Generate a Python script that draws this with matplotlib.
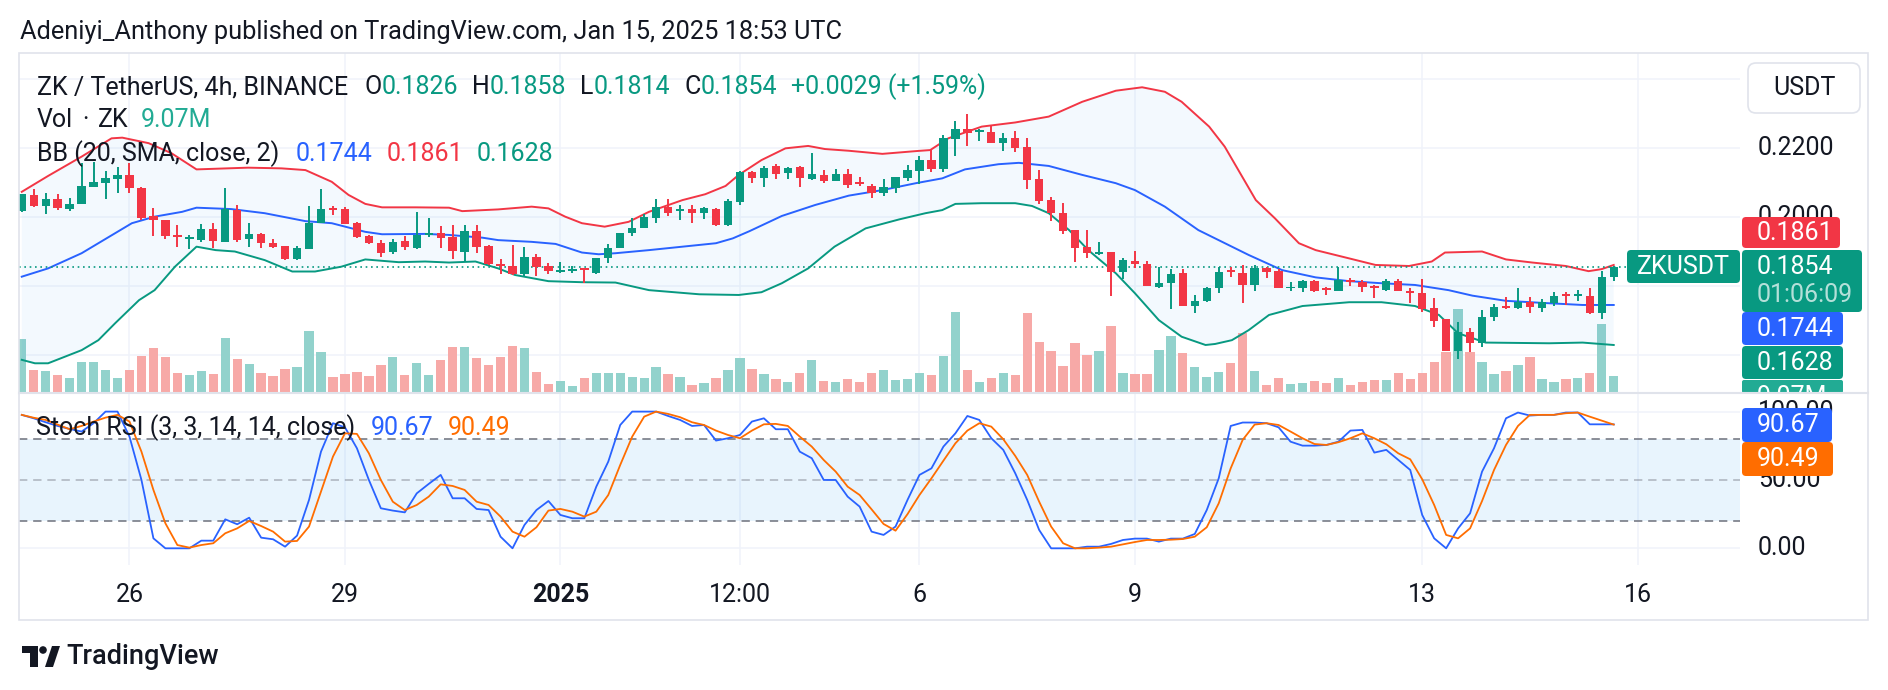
import numpy as np
import matplotlib
matplotlib.use("Agg")
import matplotlib.pyplot as plt
from matplotlib.patches import FancyBboxPatch, Rectangle, Circle, Polygon
from matplotlib.lines import Line2D
from matplotlib.transforms import IdentityTransform, Bbox, blended_transform_factory

plt.rcParams['font.family'] = ['Roboto', 'DejaVu Sans']

# ---- data (4h candles, Dec 24 12:00 -> Jan 15 16:00 UTC) ----
opens = [0.2017, 0.2064, 0.2032, 0.2052, 0.2023, 0.2037, 0.2088, 0.2100, 0.2110, 0.2122,
         0.2083, 0.2004, 0.1991, 0.1947, 0.1937, 0.1933, 0.1964, 0.1928, 0.2020, 0.1935,
         0.1951, 0.1926, 0.1916, 0.1877, 0.1908, 0.1984, 0.2027, 0.2022, 0.1982, 0.1945,
         0.1924, 0.1900, 0.1930, 0.1911, 0.1948, 0.1953, 0.1941, 0.1900, 0.1959, 0.1917,
         0.1864, 0.1858, 0.1834, 0.1885, 0.1859, 0.1842, 0.1844, 0.1850, 0.1837, 0.1880,
         0.1911, 0.1953, 0.1967, 0.1996, 0.2030, 0.2017, 0.2023, 0.2013, 0.2023, 0.1977,
         0.2044, 0.2131, 0.2112, 0.2148, 0.2127, 0.2144, 0.2109, 0.2122, 0.2105, 0.2124,
         0.2101, 0.2091, 0.2071, 0.2083, 0.2112, 0.2134, 0.2165, 0.2138, 0.2225, 0.2254,
         0.2246, 0.2246, 0.2215, 0.2228, 0.2202, 0.2110, 0.2049, 0.2011, 0.1962, 0.1912,
         0.1893, 0.1898, 0.1842, 0.1872, 0.1864, 0.1798, 0.1808, 0.1837, 0.1743, 0.1757,
         0.1793, 0.1844, 0.1839, 0.1803, 0.1851, 0.1844, 0.1793, 0.1795, 0.1814, 0.1792,
         0.1786, 0.1817, 0.1813, 0.1800, 0.1788, 0.1814, 0.1786, 0.1779, 0.1735, 0.1704,
         0.1613, 0.1666, 0.1634, 0.1709, 0.1742, 0.1735, 0.1753, 0.1735, 0.1752, 0.1777,
         0.1772, 0.1772, 0.1721, 0.1826]
highs = [0.2066, 0.2080, 0.2069, 0.2066, 0.2056, 0.2156, 0.2160, 0.2133, 0.2146, 0.2156,
         0.2086, 0.2025, 0.1991, 0.1976, 0.1948, 0.1979, 0.1984, 0.2083, 0.2034, 0.1982,
         0.1955, 0.1935, 0.1916, 0.1917, 0.2032, 0.2080, 0.2032, 0.2028, 0.1985, 0.1948,
         0.1933, 0.1935, 0.1945, 0.2014, 0.1996, 0.1974, 0.1976, 0.1976, 0.1976, 0.1919,
         0.1877, 0.1919, 0.1914, 0.1893, 0.1866, 0.1869, 0.1858, 0.1851, 0.1882, 0.1922,
         0.1953, 0.1998, 0.2008, 0.2052, 0.2052, 0.2034, 0.2034, 0.2030, 0.2025, 0.2052,
         0.2133, 0.2133, 0.2149, 0.2153, 0.2146, 0.2149, 0.2185, 0.2136, 0.2138, 0.2138,
         0.2115, 0.2095, 0.2111, 0.2115, 0.2151, 0.2177, 0.2194, 0.2238, 0.2278, 0.2299,
         0.2254, 0.2265, 0.2244, 0.2249, 0.2228, 0.2136, 0.2057, 0.2040, 0.1962, 0.1962,
         0.1927, 0.1900, 0.1882, 0.1901, 0.1872, 0.1856, 0.1848, 0.1848, 0.1774, 0.1798,
         0.1854, 0.1856, 0.1861, 0.1861, 0.1856, 0.1849, 0.1811, 0.1817, 0.1817, 0.1796,
         0.1854, 0.1822, 0.1817, 0.1803, 0.1819, 0.1819, 0.1793, 0.1819, 0.1764, 0.1704,
         0.1697, 0.1677, 0.1730, 0.1747, 0.1769, 0.1793, 0.1769, 0.1761, 0.1784, 0.1782,
         0.1788, 0.1793, 0.1843, 0.1858]
lows = [0.2015, 0.2030, 0.2008, 0.2020, 0.2018, 0.2037, 0.2088, 0.2052, 0.2071, 0.2069,
        0.1991, 0.1946, 0.1935, 0.1914, 0.1908, 0.1928, 0.1911, 0.1928, 0.1928, 0.1912,
        0.1909, 0.1909, 0.1875, 0.1875, 0.1906, 0.1982, 0.2006, 0.1980, 0.1938, 0.1922,
        0.1885, 0.1892, 0.1904, 0.1906, 0.1941, 0.1909, 0.1877, 0.1873, 0.1897, 0.1861,
        0.1835, 0.1832, 0.1825, 0.1829, 0.1835, 0.1837, 0.1837, 0.1810, 0.1834, 0.1866,
        0.1911, 0.1945, 0.1967, 0.1982, 0.2004, 0.1991, 0.1984, 0.1993, 0.1975, 0.1975,
        0.2034, 0.2100, 0.2088, 0.2110, 0.2110, 0.2088, 0.2107, 0.2098, 0.2105, 0.2085,
        0.2090, 0.2056, 0.2062, 0.2071, 0.2104, 0.2095, 0.2131, 0.2129, 0.2177, 0.2207,
        0.2221, 0.2215, 0.2192, 0.2189, 0.2081, 0.2038, 0.1988, 0.1951, 0.1871, 0.1880,
        0.1890, 0.1772, 0.1820, 0.1853, 0.1801, 0.1795, 0.1733, 0.1743, 0.1721, 0.1755,
        0.1781, 0.1827, 0.1752, 0.1786, 0.1824, 0.1795, 0.1786, 0.1784, 0.1784, 0.1774,
        0.1786, 0.1801, 0.1784, 0.1766, 0.1786, 0.1786, 0.1750, 0.1726, 0.1682, 0.1613,
        0.1587, 0.1610, 0.1624, 0.1700, 0.1732, 0.1732, 0.1723, 0.1724, 0.1742, 0.1745,
        0.1757, 0.1718, 0.1703, 0.1814]
closes = [0.2066, 0.2032, 0.2052, 0.2025, 0.2037, 0.2090, 0.2102, 0.2112, 0.2122, 0.2083,
          0.1996, 0.1991, 0.1946, 0.1941, 0.1940, 0.1964, 0.1931, 0.2022, 0.1933, 0.1951,
          0.1924, 0.1914, 0.1877, 0.1911, 0.1984, 0.2023, 0.2020, 0.1980, 0.1941, 0.1924,
          0.1897, 0.1928, 0.1914, 0.1948, 0.1955, 0.1938, 0.1902, 0.1959, 0.1914, 0.1864,
          0.1859, 0.1835, 0.1885, 0.1856, 0.1843, 0.1846, 0.1849, 0.1846, 0.1882, 0.1911,
          0.1953, 0.1969, 0.1999, 0.2028, 0.2011, 0.2023, 0.2011, 0.2026, 0.1977, 0.2047,
          0.2131, 0.2112, 0.2141, 0.2125, 0.2143, 0.2112, 0.2124, 0.2104, 0.2124, 0.2093,
          0.2097, 0.2071, 0.2086, 0.2115, 0.2136, 0.2165, 0.2138, 0.2228, 0.2254, 0.2243,
          0.2250, 0.2215, 0.2228, 0.2199, 0.2107, 0.2047, 0.2011, 0.1959, 0.1911, 0.1895,
          0.1900, 0.1842, 0.1875, 0.1863, 0.1801, 0.1810, 0.1835, 0.1743, 0.1757, 0.1793,
          0.1840, 0.1840, 0.1803, 0.1851, 0.1842, 0.1795, 0.1798, 0.1814, 0.1786, 0.1788,
          0.1817, 0.1813, 0.1796, 0.1793, 0.1814, 0.1786, 0.1781, 0.1733, 0.1700, 0.1613,
          0.1666, 0.1634, 0.1711, 0.1738, 0.1737, 0.1755, 0.1738, 0.1753, 0.1772, 0.1772,
          0.1776, 0.1721, 0.1825, 0.1854]
volume_m = [28.5, 11.9, 11.4, 9.6, 7.7, 16.1, 16.1, 11.9, 7.7, 11.9,
            19.2, 23.4, 18.7, 10.3, 9.3, 11.4, 9.8, 28.7, 17.7, 15.0,
            10.3, 8.7, 12.4, 13.5, 32.3, 21.3, 8.2, 9.8, 10.8, 8.7,
            14.5, 18.7, 9.3, 15.6, 9.3, 17.1, 24.0, 24.0, 18.2, 14.5,
            18.7, 24.5, 23.4, 10.8, 4.5, 6.1, 3.5, 7.7, 10.3, 10.3,
            10.3, 8.2, 7.7, 13.5, 9.8, 8.2, 4.0, 5.1, 7.7, 11.9,
            18.2, 12.4, 9.8, 7.2, 5.6, 10.3, 17.1, 6.5, 5.9, 7.5,
            5.9, 10.7, 12.2, 7.0, 7.5, 10.7, 9.6, 19.6, 42.6, 12.2,
            5.9, 8.0, 10.7, 9.6, 42.1, 26.9, 22.2, 14.3, 26.4, 20.1,
            22.2, 35.3, 10.7, 10.1, 10.1, 22.7, 30.1, 21.1, 13.8, 8.6,
            11.2, 15.9, 31.6, 11.7, 4.4, 8.0, 4.9, 5.4, 6.5, 5.4,
            8.0, 4.4, 5.9, 7.0, 7.0, 10.7, 7.5, 10.7, 16.4, 21.7,
            44.2, 21.7, 16.4, 10.1, 11.7, 14.8, 19.0, 7.5, 5.9, 7.5,
            8.0, 10.7, 36.3, 9.07]

# Bollinger bands (candle index, value)
bb_up_x = [0, 2.2, 5, 7.5, 8.4, 10.6, 12.5, 14.6, 18.9, 21.7, 23.7, 25.9, 27.3, 28.7, 30.1, 32.9,
           35.7, 36.8, 39.8, 42.6, 44, 45.4, 46.8, 48.7, 50.7, 52.4, 55.2, 57.1, 58.8, 59.9, 61.8,
           63.8, 65.7, 67.1, 69.1, 71.9, 74.7, 75.9, 77.4, 80.2, 83, 85.8, 88.6, 91.4, 93.6, 95.5,
           96.9, 99.2, 100.5, 103.1, 104.7, 106.7, 108.1, 110.9, 113.1, 115.9, 117.8, 118.9, 122,
           124, 126.2, 129, 130.9, 132, 133]
bb_up = [0.2073, 0.2119, 0.2175, 0.2228, 0.2230, 0.2214, 0.2185, 0.2138, 0.2143, 0.2141, 0.2136,
         0.2102, 0.2064, 0.2038, 0.2028, 0.2028, 0.2027, 0.2017, 0.2022, 0.2030, 0.2025, 0.2001,
         0.1982, 0.1972, 0.1986, 0.2015, 0.2049, 0.2066, 0.2090, 0.2122, 0.2165, 0.2199, 0.2206,
         0.2197, 0.2192, 0.2183, 0.2191, 0.2194, 0.2228, 0.2262, 0.2274, 0.2291, 0.2334, 0.2366,
         0.2376, 0.2363, 0.2334, 0.2262, 0.2204, 0.2049, 0.1996, 0.1924, 0.1904, 0.1880, 0.1861,
         0.1858, 0.1871, 0.1897, 0.1900, 0.1877, 0.1868, 0.1858, 0.1843, 0.1849, 0.1861]
bb_mid_x = [0, 2.2, 5, 7.8, 9.2, 11.1, 13.4, 14.6, 17.5, 20.3, 23.7, 25.9, 28.7, 30.1, 33.7, 35.7,
            38.5, 39.8, 42.6, 44.6, 46.8, 48.2, 49.6, 52.4, 55.2, 58, 59.4, 60.8, 63.5, 66.3, 69.1,
            71.9, 74.7, 76.9, 78.8, 81.6, 83.3, 85.8, 88.6, 91.4, 93, 95.5, 98.3, 99.7, 102.5,
            105.3, 108.1, 110.9, 113.6, 116.4, 119.2, 121.2, 124, 127.6, 130.4, 133]
bb_mid = [0.1827, 0.1851, 0.1895, 0.1953, 0.1982, 0.2001, 0.2015, 0.2027, 0.2023, 0.2011, 0.1988,
          0.1982, 0.1957, 0.1950, 0.1951, 0.1948, 0.1940, 0.1933, 0.1928, 0.1922, 0.1897, 0.1892,
          0.1895, 0.1904, 0.1914, 0.1924, 0.1938, 0.1959, 0.2003, 0.2035, 0.2062, 0.2078, 0.2098,
          0.2112, 0.2138, 0.2153, 0.2157, 0.2148, 0.2122, 0.2098, 0.2078, 0.2030, 0.1962, 0.1938,
          0.1890, 0.1846, 0.1825, 0.1814, 0.1808, 0.1803, 0.1788, 0.1772, 0.1757, 0.1750, 0.1745,
          0.1745]
bb_lo_x = [0, 1.1, 2.2, 5, 6.4, 7.8, 9.8, 11.1, 12.8, 14.6, 16.2, 17.8, 20.3, 22.6, 24.5, 26.7,
           28.7, 31.5, 33.7, 35.7, 37.9, 39.8, 41.2, 44, 46.8, 49.6, 52.4, 56.6, 59.9, 61.8, 63.5,
           65.7, 67.9, 70.5, 73.3, 75.5, 76.9, 78, 80.2, 83, 84.4, 85.8, 87.5, 89.1, 91.4, 93, 95,
           96.9, 98.9, 99.7, 101.1, 102.5, 104.2, 107, 110.9, 113.6, 116.4, 118.4, 120, 122.3,
           127.6, 130.4, 133]
bb_lo = [0.1586, 0.1576, 0.1576, 0.1614, 0.1643, 0.1692, 0.1759, 0.1788, 0.1856, 0.1914, 0.1904,
         0.1900, 0.1875, 0.1842, 0.1842, 0.1856, 0.1877, 0.1869, 0.1871, 0.1868, 0.1871, 0.1851,
         0.1832, 0.1814, 0.1811, 0.1810, 0.1788, 0.1776, 0.1774, 0.1782, 0.1808, 0.1851, 0.1914,
         0.1967, 0.1993, 0.2011, 0.2020, 0.2038, 0.2040, 0.2040, 0.2032, 0.2011, 0.1962, 0.1904,
         0.1837, 0.1779, 0.1701, 0.1653, 0.1629, 0.1632, 0.1643, 0.1672, 0.1716, 0.1742, 0.1753,
         0.1753, 0.1742, 0.1716, 0.1663, 0.1636, 0.1634, 0.1636, 0.1629]

# Stoch RSI %K and %D, one value per candle
stoch_k = [97.6, 95.1, 92.2, 89.5, 87.3, 85.4, 91.5, 100, 100, 81.7,
           50, 7.3, 0, 0, 0, 5.6, 5.6, 21.2, 17.6, 22.4,
           7.8, 6.6, 1.2, 9.3, 35.4, 70.7, 91.5, 88.5, 73.2, 50,
           29.3, 27.6, 26.3, 40.2, 47.1, 53.7, 36.6, 36.6, 28.8, 28,
           8.5, 0, 17.1, 28, 34.6, 24.4, 22, 22, 45.1, 63.4,
           90.2, 100, 100, 100, 96.8, 93.9, 89.5, 90.2, 78.8, 80.5,
           82.9, 92.7, 95.1, 87.1, 87.1, 70.7, 65.9, 50, 50, 37.8,
           30.5, 12.2, 9.8, 15.9, 35.4, 53.7, 58.5, 74.4, 84.1, 96.8,
           93.9, 80.5, 72, 54.9, 35.4, 13.4, 0, 0, 0, 1.2,
           1.2, 3.2, 6.1, 7.1, 7.1, 4.9, 7.1, 7.1, 10.5, 28,
           51.2, 89.5, 92, 92, 91.5, 88.5, 78, 75.1, 75.1, 75.6,
           78, 86.1, 86.6, 70, 72, 64.6, 57.3, 24.4, 7.3, 0,
           14.6, 25.6, 56.1, 73.2, 95.1, 99.3, 97.1, 97.6, 97.6, 99.3,
           99.3, 90.7, 90.7, 90.67]
stoch_d = [97.6, 95.5, 93.9, 90.5, 87.1, 89.5, 92.7, 95.6, 97.6, 92.7,
           70.7, 42.7, 18.3, 2.4, 0.5, 2.4, 3.7, 11, 14.6, 20,
           16.3, 12.2, 4.9, 5.4, 15.9, 41.5, 67.1, 84.1, 83.7, 69.5,
           50, 34.1, 28, 31.7, 37.8, 46.8, 45.6, 42.7, 34.1, 31.7,
           23.2, 12.2, 8.5, 15.4, 27.6, 28.8, 26.8, 23.2, 26.8, 39,
           61, 81.7, 96.3, 100, 98.3, 95.9, 92.2, 90.2, 86.1, 82.9,
           80.5, 86.1, 90.7, 91, 89.5, 81.7, 74.4, 64.6, 56.1, 45.1,
           39, 28.5, 17.8, 12.9, 25, 39, 51.2, 64.1, 76.8, 86.1,
           91.5, 89, 79.8, 67.6, 53.7, 34.1, 15.9, 3.7, 0, 0,
           0.5, 1.2, 2.9, 4.6, 6.1, 6.1, 6.3, 6.8, 8.5, 15.4,
           32.9, 58.5, 79.3, 90.5, 91.5, 90.2, 85.4, 80.5, 76.3, 75.6,
           77.6, 80.5, 84.1, 80.5, 76.1, 69.5, 65.1, 50.5, 31.7, 9.8,
           7.3, 14.6, 34.6, 57.3, 75.6, 89.5, 97.6, 97.6, 97.6, 98.8,
           99.3, 96.3, 93.4, 90.49]

tick_idx = [9, 27, 45, 60, 75, 93, 117, 135]
tick_lbl = ['26', '29', '2025', '12:00', '6', '9', '13', '16']
price_grid = [0.16, 0.18, 0.20, 0.22, 0.24]
price_ticks = [0.20, 0.22]          # the others sit under the scale labels
stoch_ticks = [0, 50, 100]

UP, DOWN = '#089981', '#F23645'
BLUE, ORANGE, DARK = '#2962FF', '#FF6D00', '#131722'
GRID, BORDER = '#F0F3FA', '#E0E3EB'
FS = 18

W, H = 1888, 690
fig = plt.figure(figsize=(W / 100, H / 100), dpi=100)
pix = IdentityTransform()


def rect(x0, y0, x1, y1):
    return [x0 / W, 1 - y1 / H, (x1 - x0) / W, (y1 - y0) / H]


o, h, l, c = map(np.array, (opens, highs, lows, closes))
x = np.arange(len(o))
up = c >= o
col = np.where(up, UP, DOWN)
vcol = np.where(up, '#92D2CC', '#F7A9A7')

xlim = (-0.23, 143.55)

ax_vol = fig.add_axes(rect(19, 53, 1740, 393))
ax = fig.add_axes(rect(19, 53, 1740, 393))
ax_st = fig.add_axes(rect(19, 393, 1740, 565))
ax_p = fig.add_axes(rect(1740, 53, 1868, 393))
ax_sp = fig.add_axes(rect(1740, 393, 1868, 565))
for a in (ax_vol, ax, ax_st, ax_p, ax_sp):
    a.set_axis_off()
ax_vol.set_zorder(1)
ax.set_zorder(2)
ax_st.set_zorder(1)

for a in (ax_vol, ax, ax_st):
    a.set_xlim(*xlim)
ax.set_ylim(0.148986, 0.247536)
ax_p.set_ylim(ax.get_ylim())
ax_vol.set_ylim(0, 178.3)
ax_st.set_ylim(-12.2, 113.6)
ax_sp.set_ylim(ax_st.get_ylim())

# grid
mix = blended_transform_factory(ax_vol.transAxes, ax.transData)
for p in price_grid:
    ax_vol.plot([0, 1], [p, p], color=GRID, lw=1.1, transform=mix, zorder=0)
for t in tick_idx:
    ax_vol.axvline(t, color=GRID, lw=1.1, zorder=0)
    ax_st.axvline(t, color=GRID, lw=1.1, zorder=0)
for v in (0, 100):
    ax_st.axhline(v, color=GRID, lw=1.1, zorder=0)

# volume
ax_vol.bar(x, volume_m, width=0.78, color=vcol, lw=0, zorder=2)

# bollinger bands
poly_x = list(bb_up_x) + list(bb_lo_x)[::-1]
poly_y = list(bb_up) + list(bb_lo)[::-1]
ax.fill(poly_x, poly_y, color='#2196F3', alpha=0.05, lw=0, zorder=1)
ax.plot(bb_up_x, bb_up, color=DOWN, lw=1.4, zorder=2)
ax.plot(bb_mid_x, bb_mid, color=BLUE, lw=1.4, zorder=2)
ax.plot(bb_lo_x, bb_lo, color=UP, lw=1.4, zorder=2)

# candles
ax.vlines(x, l, h, colors=col, lw=1.4, zorder=3)
body = np.maximum(np.abs(c - o), 0.0005)
ax.bar(x, body, bottom=np.minimum(o, c), width=0.7, color=col, lw=0, zorder=4)
ax.axhline(c[-1], color=UP, lw=1.2, ls=(0, (1, 2.2)), zorder=2.5)

# stoch rsi
ax_st.axhspan(20, 80, color='#2196F3', alpha=0.1, lw=0, zorder=0.5)
ax_st.axhline(80, color='#787B86', lw=1.2, ls=(0, (5, 3.5)), zorder=1)
ax_st.axhline(50, color='#787B86', alpha=0.5, lw=1.2, ls=(0, (5, 3.5)), zorder=1)
ax_st.axhline(20, color='#787B86', lw=1.2, ls=(0, (5, 3.5)), zorder=1)
ax_st.plot(x, stoch_k, color=BLUE, lw=1.3, zorder=3)
ax_st.plot(x, stoch_d, color=ORANGE, lw=1.3, zorder=3)

# time axis
for t, s in zip(tick_idx, tick_lbl):
    ax_st.text(t, -0.174, s, transform=ax_st.get_xaxis_transform(), ha='center', va='center',
               fontsize=FS, color=DARK, fontweight='bold' if s == '2025' else 'normal', clip_on=False)

# price scale labels
for p in price_ticks:
    ax_p.text(0.14, p, '%.4f' % p, transform=ax_p.get_yaxis_transform(), ha='left', va='center',
              fontsize=FS, color=DARK, clip_on=False)
for v in stoch_ticks:
    ax_sp.text(0.14, v, '%.2f' % v, transform=ax_sp.get_yaxis_transform(), ha='left', va='center',
               fontsize=FS, color=DARK, clip_on=False)


def box(x0, y0, x1, y1, fc, ec='none', r=4, z=6):
    fig.add_artist(FancyBboxPatch((x0, H - y1), x1 - x0, y1 - y0,
                                  boxstyle='round,pad=0,rounding_size=%g' % r,
                                  fc=fc, ec=ec, lw=1.2, transform=pix, zorder=z))


def label(xp, yp, s, color='white', ha='left', alpha=1.0, size=FS, weight='normal'):
    return fig.text(xp, H - yp, s, transform=pix, ha=ha, va='center', color=color,
                    fontsize=size, alpha=alpha, zorder=7, fontweight=weight)


box(1748, 63, 1860, 113, 'white', ec=BORDER, r=8)
label(1804, 88, 'USDT', color=DARK, ha='center')
box(1742, 217, 1840, 248, DOWN)
label(1757, 232.5, '0.1861')
box(1742, 250, 1862, 312, UP)
label(1757, 267, '%.4f' % c[-1])
label(1757, 295, '01:06:09', alpha=0.7)
box(1627, 250, 1740, 283, UP)
label(1683.5, 266.5, 'ZKUSDT', ha='center')
box(1742, 312, 1843, 345, BLUE)
label(1757, 328.5, '0.1744')
box(1742, 346, 1843, 379, UP)
label(1757, 362.5, '0.1628')
box(1742, 380, 1843, 393, '#22AB94', r=2)
tv = label(1757, 397, '9.07M')
tv.set_clip_box(Bbox.from_extents(1742, H - 393, 1843, H - 380))
box(1742, 408, 1832, 442, BLUE)
label(1757, 425, '%.2f' % stoch_k[-1])
box(1742, 442, 1833, 476, ORANGE)
label(1757, 459, '%.2f' % stoch_d[-1])

# frame
fig.add_artist(Rectangle((19, H - 620), 1849, 567, transform=pix, fill=False, ec=BORDER,
                         lw=1.2, zorder=8))
fig.add_artist(Line2D([19, 1868], [H - 393, H - 393], transform=pix, color=BORDER, lw=1.5, zorder=8))

# legends
renderer = fig.canvas.get_renderer()


def seq(xp, yp, parts):
    for s, colr, gap in parts:
        t = label(xp, yp, s, color=colr)
        xp += t.get_window_extent(renderer=renderer).width + gap


seq(37, 87, [('ZK / TetherUS, 4h, BINANCE', DARK, 16), ('O', DARK, 0), ('0.1826', UP, 14),
             ('H', DARK, 0), ('0.1858', UP, 14), ('L', DARK, 0), ('0.1814', UP, 14),
             ('C', DARK, 0), ('0.1854', UP, 14), ('+0.0029 (+1.59%)', UP, 0)])
seq(37, 120, [('Vol', DARK, 9), ('·', DARK, 9), ('ZK', DARK, 13), ('9.07M', '#22AB94', 0)])
seq(37, 154, [('BB (20, SMA, close, 2)', DARK, 16), ('0.1744', BLUE, 14), ('0.1861', DOWN, 14),
              ('0.1628', UP, 0)])
seq(36, 428, [('Stoch RSI (3, 3, 14, 14, close)', DARK, 16), ('90.67', BLUE, 14),
              ('90.49', ORANGE, 0)])

label(20, 32, 'Adeniyi_Anthony published on TradingView.com, Jan 15, 2025 18:53 UTC', color=DARK,
      size=FS + 0.3)

# TradingView logo
fig.add_artist(Polygon([(22, H - 646), (38, H - 646), (38, H - 667), (30, H - 667), (30, H - 653),
                        (22, H - 653)], closed=True, transform=pix, fc=DARK, ec='none', zorder=7))
fig.add_artist(Circle((43, H - 650), 3.8, transform=pix, fc=DARK, ec='none', zorder=7))
fig.add_artist(Polygon([(45, H - 667), (53, H - 667), (60, H - 646), (52, H - 646)], closed=True,
                       transform=pix, fc=DARK, ec='none', zorder=7))
label(66, 656, 'TradingView', color=DARK, size=FS + 1.5, weight='medium')

fig.savefig('out.png', dpi=100, facecolor='white')
